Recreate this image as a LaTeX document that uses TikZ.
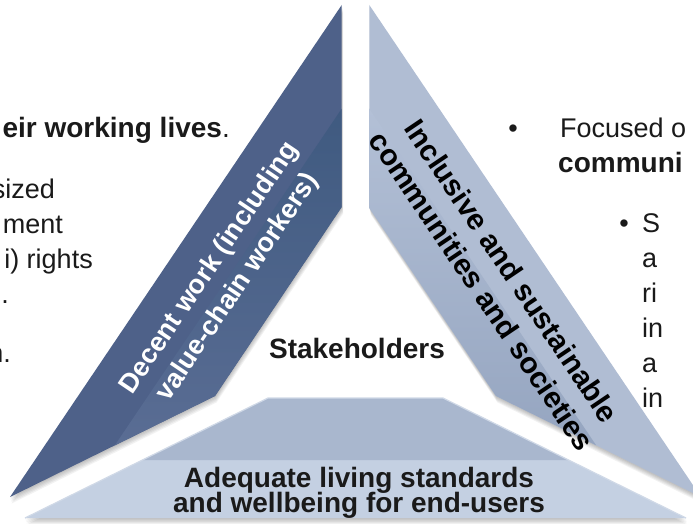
\documentclass[tikz,border=0pt]{standalone}
\usepackage{fontspec}
\setmainfont{Liberation Sans}
\definecolor{darkout}{HTML}{4E6189}
\definecolor{darkintop}{HTML}{3F5A80}
\definecolor{darkinbot}{HTML}{5A6D94}
\definecolor{lightout}{HTML}{B0BDD3}
\definecolor{lightintop}{HTML}{B3C0D6}
\definecolor{lightinbot}{HTML}{95A5C0}
\definecolor{traptop}{HTML}{A9B7CE}
\definecolor{trapbot}{HTML}{C4D0E2}
\definecolor{trapedge}{HTML}{D0D9E7}
\definecolor{txtc}{HTML}{1A1A1A}
\newcommand\darkshp{(341.7,5)--(341.7,207)--(215,396)--(10,497)--cycle}
\newcommand\lightshp{(369.3,5)--(369.3,208)--(496,396)--(701,497)--cycle}
\newcommand\trapshp{(268,398)--(443,398)--(686,518)--(25,518)--cycle}
\begin{document}
\begin{tikzpicture}[x=1pt,y=-1pt,
  bodytxt/.style={font=\fontsize{27}{30}\selectfont, text=txtc, inner sep=0pt},
  headtxt/.style={font=\fontsize{28}{30}\selectfont\bfseries, text=txtc, inner sep=0pt},
  bandtxt/.style={font=\fontsize{27}{34}\selectfont\bfseries, inner sep=0pt, align=center},
  bandtxtb/.style={font=\fontsize{29.5}{36}\selectfont\bfseries, inner sep=0pt, align=center},
  shadowfill/.style={fill=black, opacity=0.05}]
\useasboundingbox (0,0) rectangle (693,524);
\fill[white] (0,0) rectangle (693,524);
\begin{scope}
\clip (0,0) rectangle (693,524);
% soft shadows
\foreach \k in {1,...,5}{
  \begin{scope}[shift={(0.3*\k,1.3*\k)}]
    \fill[shadowfill] \darkshp;
    \fill[shadowfill] \lightshp;
    \fill[shadowfill] \trapshp;
  \end{scope}}
% left band
\fill[darkout] \darkshp;
\shade[top color=darkintop, bottom color=darkinbot] (341.7,108.7)--(341.7,207)--(215,396)--(114.8,445.4)--cycle;
% right band
\fill[lightout] \lightshp;
\shade[top color=lightintop, bottom color=lightinbot] (369.3,108.7)--(369.3,208)--(496,396)--(596.2,445.4)--cycle;
% bottom band
\fill[trapbot] \trapshp;
\fill[traptop] (268,398)--(443,398)--(568.6,460)--(142.4,460)--cycle;
\draw[trapedge, line width=1.2pt] (25,518)--(268,398)--(443,398)--(686,518);
% band texts
\node[bandtxt, text=white, rotate=56] (dtxt) at (224,278) {Decent work (including\\value-chain workers)};
\node[bandtxtb, text=black, rotate=-56] (ltxt) at (497,281) {Inclusive and sustainable\\communities and societies};
\node[headtxt] (stk) at (357,348) {Stakeholders};
\node[headtxt, anchor=base] (adq1) at (359,487) {Adequate living standards};
\node[headtxt, anchor=base] (adq2) at (359,512) {and wellbeing for end-users};
% left text
\node[headtxt, anchor=base east] (l1) at (230,137) {eir working lives\mdseries.};
\node[bodytxt, anchor=base east] (l2) at (55,198) {sized};
\node[bodytxt, anchor=base east] (l3) at (63,233) {ment};
\node[bodytxt, anchor=base east] (l4) at (93,268) {i) rights};
\node[bodytxt, anchor=base east] (l5) at (9,303) {.};
\node[bodytxt, anchor=base east] (l6) at (11,362) {n.};
% right text
\node[bodytxt, anchor=base] (b1) at (513,137) {•};
\node[bodytxt, anchor=base west] (r1) at (560,137) {Focused o};
\node[headtxt, anchor=base west] (r2) at (558,172) {communi};
\node[bodytxt, anchor=base] (b2) at (624,232) {•};
\node[bodytxt, anchor=base west] (r3) at (642,232) {S};
\node[bodytxt, anchor=base west] (r4) at (642,267) {a};
\node[bodytxt, anchor=base west] (r5) at (642,302) {ri};
\node[bodytxt, anchor=base west] (r6) at (642,337) {in};
\node[bodytxt, anchor=base west] (r7) at (642,372) {a};
\node[bodytxt, anchor=base west] (r8) at (642,407) {in};
\end{scope}
\end{tikzpicture}
\end{document}
